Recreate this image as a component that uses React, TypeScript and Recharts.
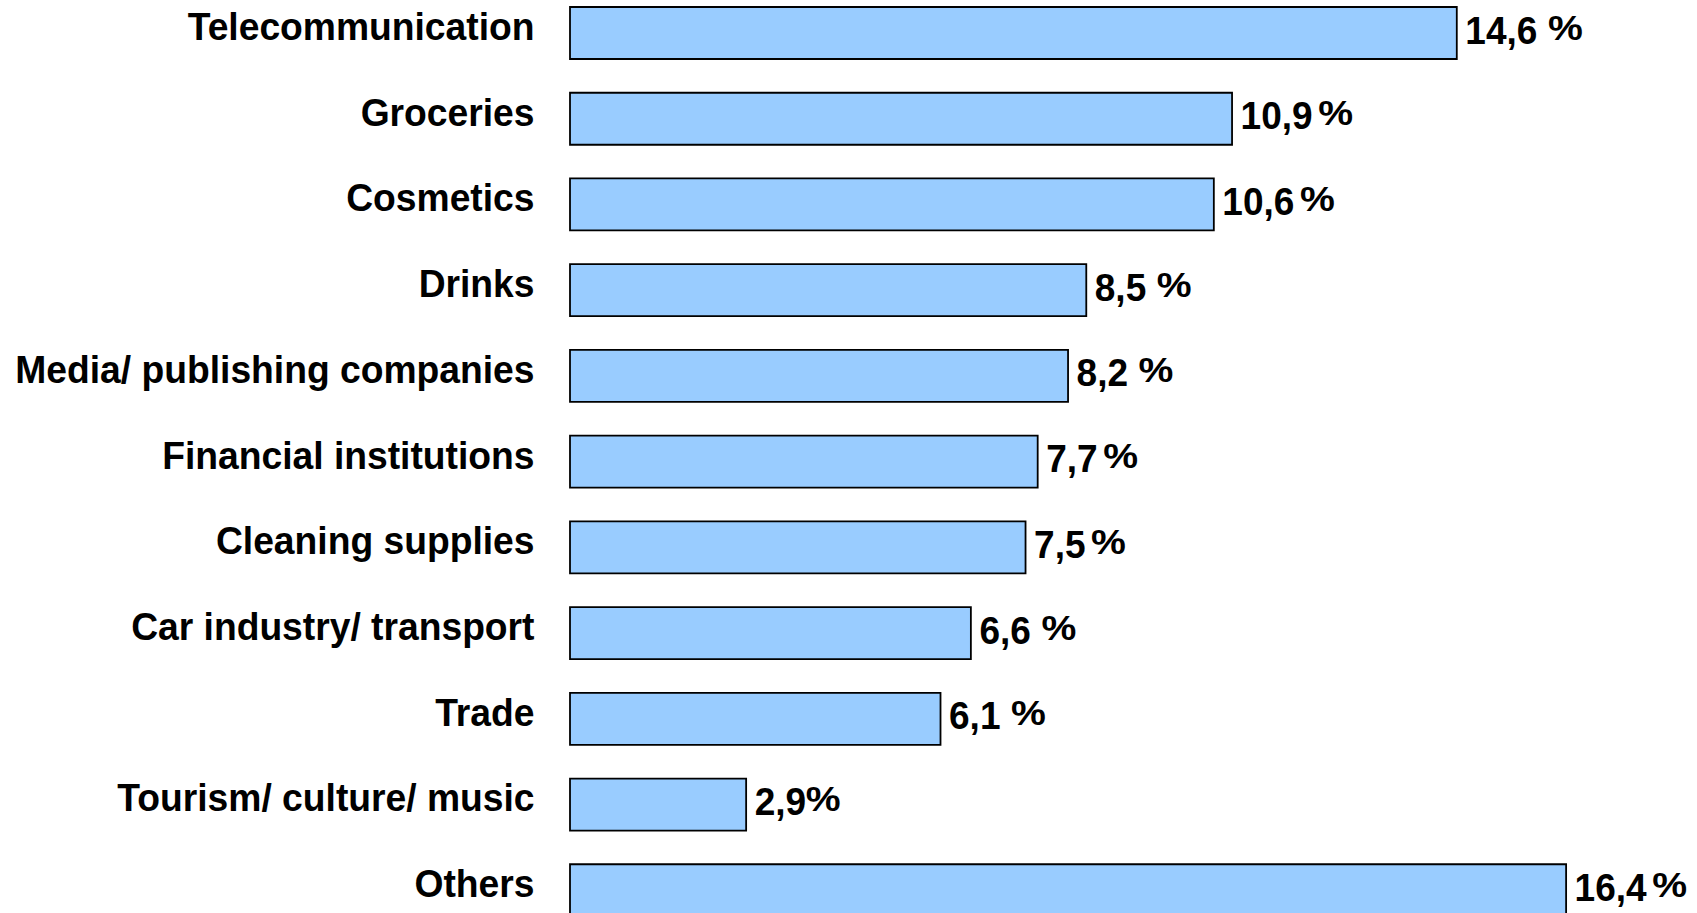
import React from 'react';
import { BarChart, Bar, XAxis, YAxis } from 'recharts';

const categories = [
  'Telecommunication',
  'Groceries',
  'Cosmetics',
  'Drinks',
  'Media/ publishing companies',
  'Financial institutions',
  'Cleaning supplies',
  'Car industry/ transport',
  'Trade',
  'Tourism/ culture/ music',
  'Others',
];

const shares = [14.6, 10.9, 10.6, 8.5, 8.2, 7.7, 7.5, 6.6, 6.1, 2.9, 16.4];

// ' %' wide gap, '\u2009%' narrow gap, '%' no gap (as printed in the source)
const valueLabels = [
  '14,6 %', '10,9\u2009%', '10,6\u2009%', '8,5 %', '8,2 %', '7,7\u2009%',
  '7,5\u2009%', '6,6 %', '6,1 %', '2,9%', '16,4\u2009%',
];

const data = categories.map((name, i) => ({ name, share: shares[i] }));

const FONT = '"Liberation Sans", Arial, Helvetica, sans-serif';
const NUM_SIZE = 39;
const NUM_SCALE = 0.95;

const CategoryTick = (props: any) => {
  const { x, y, payload } = props;
  return (
    <g transform={`translate(${x - 35.5},${y + 7}) scale(0.98,1)`}>
      <text x={0} y={0} textAnchor="end" fontFamily={FONT} fontWeight="bold" fontSize={38} fill="#000">
        {payload.value}
      </text>
    </g>
  );
};

// advance widths of Arial/Liberation bold, per 1000 em
const advance = (s: string) =>
  s.split('').reduce((w, c) => w + (c === ',' ? 278 : 556), 0);

const ValueLabel = (props: any) => {
  const { x, y, width, height, index, value } = props;
  const raw: string =
    index != null && valueLabels[index] != null
      ? valueLabels[index]
      : `${String(value).replace('.', ',')} %`;
  const num = raw.replace(/[\s\u2009]*%$/, '');
  const gap = raw.includes(' %') ? 10.5 : raw.includes('\u2009%') ? 5.5 : -0.5;
  const numW = (advance(num) * NUM_SIZE) / 1000;
  const tx = x + width + 8.5;
  const ty = y + height / 2 + 10.5;
  return (
    <g transform={`translate(${tx},${ty}) scale(${NUM_SCALE},1)`}>
      <text x={0} y={0} fontFamily={FONT} fontWeight="bold" fontSize={NUM_SIZE} fill="#000">
        {num}
      </text>
      <g transform={`translate(${numW + gap / NUM_SCALE},-4) scale(${1.12 / NUM_SCALE},1)`}>
        <text x={0} y={0} fontFamily={FONT} fontWeight="bold" fontSize={35} fill="#000">
          %
        </text>
      </g>
    </g>
  );
};

export default function App() {
  return (
    <div style={{ position: 'absolute', left: 0, top: 0, width: 1697, height: 913, overflow: 'hidden', background: '#fff' }}>
      <div style={{ marginTop: -20 }}>
        <BarChart
          width={1697}
          height={963}
          data={data}
          layout="vertical"
          margin={{ top: 10, right: 33.7, bottom: 10, left: 0 }}
        >
          <XAxis type="number" domain={[0, 18]} hide />
          <YAxis
            type="category"
            dataKey="name"
            width={570}
            axisLine={false}
            tickLine={false}
            tickSize={0}
            tickMargin={0}
            interval={0}
            tick={<CategoryTick />}
          />
          <Bar
            dataKey="share"
            fill="#99CCFF"
            stroke="#000"
            strokeWidth={1.8}
            barSize={52}
            isAnimationActive={false}
            label={<ValueLabel />}
          />
        </BarChart>
      </div>
    </div>
  );
}
